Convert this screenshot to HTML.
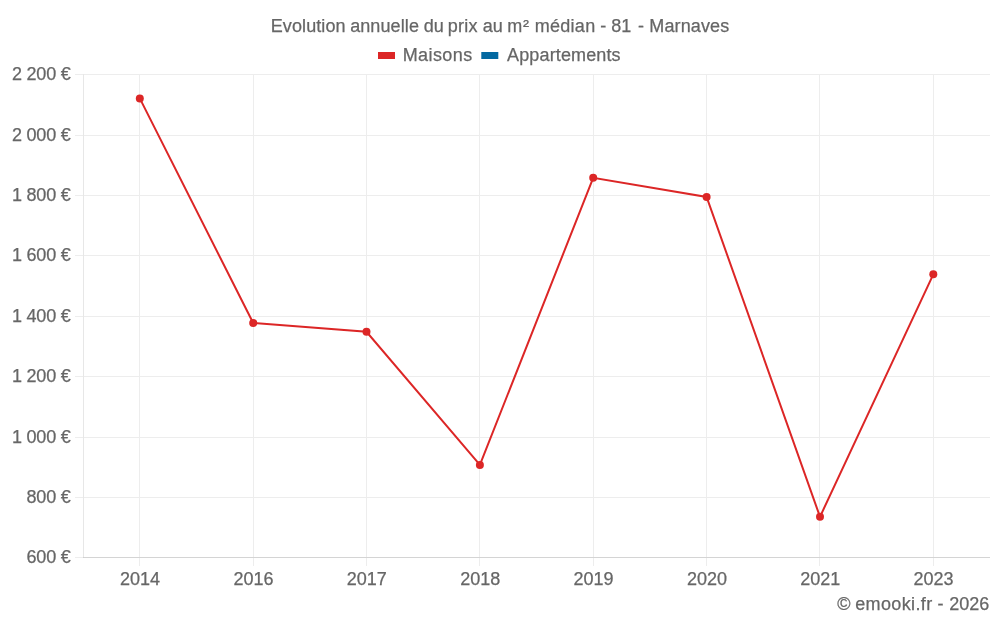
<!DOCTYPE html>
<html lang="fr"><head><meta charset="utf-8"><title>Evolution annuelle du prix au m² médian - 81 - Marnaves</title>
<style>
html,body{margin:0;padding:0;background:#fff;}
body{width:1000px;height:625px;overflow:hidden;}
svg{display:block;}
text{font-family:"Liberation Sans",sans-serif;font-size:18px;fill:#666;stroke:#666;stroke-width:0.25px;}
.g rect{fill:#ededed;}
</style></head><body>
<svg width="1000" height="625" viewBox="0 0 1000 625">
<rect width="1000" height="625" fill="#fff"/>
<g class="g" shape-rendering="crispEdges">
<rect x="139" y="74" width="1" height="492"/>
<rect x="253" y="74" width="1" height="492"/>
<rect x="366" y="74" width="1" height="492"/>
<rect x="479" y="74" width="1" height="492"/>
<rect x="593" y="74" width="1" height="492"/>
<rect x="706" y="74" width="1" height="492"/>
<rect x="819" y="74" width="1" height="492"/>
<rect x="933" y="74" width="1" height="492"/>
<rect x="75" y="74" width="915" height="1"/>
<rect x="75" y="135" width="915" height="1"/>
<rect x="75" y="195" width="915" height="1"/>
<rect x="75" y="255" width="915" height="1"/>
<rect x="75" y="316" width="915" height="1"/>
<rect x="75" y="376" width="915" height="1"/>
<rect x="75" y="437" width="915" height="1"/>
<rect x="75" y="497" width="915" height="1"/>
<rect x="75" y="557" width="915" height="1"/>
<rect x="83" y="74" width="1" height="484" style="fill:#e7e7e7"/>
<rect x="83" y="557" width="907" height="1" style="fill:rgba(0,0,0,0.1)"/>
</g>
<text y="31.5"><tspan x="270.68" style="letter-spacing:0.11px">Evolution</tspan> <tspan x="350.13" style="letter-spacing:0.1px">annuelle</tspan> <tspan x="423.69">du</tspan> <tspan x="447.71" style="letter-spacing:0.27px">prix</tspan> <tspan x="482.71">au</tspan> <tspan x="507.34" style="letter-spacing:0.8px">m²</tspan> <tspan x="534.82" style="letter-spacing:0.26px">médian</tspan> <tspan x="600.17">-</tspan> <tspan x="611.25">81</tspan> <tspan x="637.99">-</tspan> <tspan x="649.37" style="letter-spacing:0.11px">Marnaves</tspan></text>
<rect x="378" y="52" width="17" height="7" fill="#dc2626"/>
<text x="402.7" y="61.3" style="letter-spacing:0.42px">Maisons</text>
<rect x="481.3" y="52" width="17" height="7" fill="#0369a1"/>
<text x="507.1" y="61.3" style="letter-spacing:0.13px">Appartements</text>
<text x="70.6" y="80.3" text-anchor="end" style="letter-spacing:-0.2px">2 200 €</text>
<text x="70.6" y="140.7" text-anchor="end" style="letter-spacing:-0.2px">2 000 €</text>
<text x="70.6" y="201.1" text-anchor="end" style="letter-spacing:-0.2px">1 800 €</text>
<text x="70.6" y="261.4" text-anchor="end" style="letter-spacing:-0.2px">1 600 €</text>
<text x="70.6" y="321.8" text-anchor="end" style="letter-spacing:-0.2px">1 400 €</text>
<text x="70.6" y="382.2" text-anchor="end" style="letter-spacing:-0.2px">1 200 €</text>
<text x="70.6" y="442.6" text-anchor="end" style="letter-spacing:-0.2px">1 000 €</text>
<text x="70.6" y="502.9" text-anchor="end" style="letter-spacing:-0.2px">800 €</text>
<text x="70.6" y="563.3" text-anchor="end" style="letter-spacing:-0.2px">600 €</text>
<text x="140.1" y="585.3" text-anchor="middle">2014</text>
<text x="253.5" y="585.3" text-anchor="middle">2016</text>
<text x="366.8" y="585.3" text-anchor="middle">2017</text>
<text x="480.2" y="585.3" text-anchor="middle">2018</text>
<text x="593.5" y="585.3" text-anchor="middle">2019</text>
<text x="706.9" y="585.3" text-anchor="middle">2020</text>
<text x="820.3" y="585.3" text-anchor="middle">2021</text>
<text x="933.6" y="585.3" text-anchor="middle">2023</text>
<text y="610"><tspan x="837.37">©</tspan> <tspan x="855.22" style="letter-spacing:0.36px">emooki.fr</tspan> <tspan x="937.55">-</tspan> <tspan x="949.25">2026</tspan></text>
<path d="M139.8 98.4 L253.2 323.0 L366.5 331.8 L479.9 464.9 L593.2 177.8 L706.6 196.9 L820.0 516.8 L933.3 274.3" fill="none" stroke="#dc2626" stroke-width="2" stroke-linejoin="miter"/>
<circle cx="139.8" cy="98.4" r="4" fill="#dc2626"/>
<circle cx="253.2" cy="323.0" r="4" fill="#dc2626"/>
<circle cx="366.5" cy="331.8" r="4" fill="#dc2626"/>
<circle cx="479.9" cy="464.9" r="4" fill="#dc2626"/>
<circle cx="593.2" cy="177.8" r="4" fill="#dc2626"/>
<circle cx="706.6" cy="196.9" r="4" fill="#dc2626"/>
<circle cx="820.0" cy="516.8" r="4" fill="#dc2626"/>
<circle cx="933.3" cy="274.3" r="4" fill="#dc2626"/>
</svg></body></html>
